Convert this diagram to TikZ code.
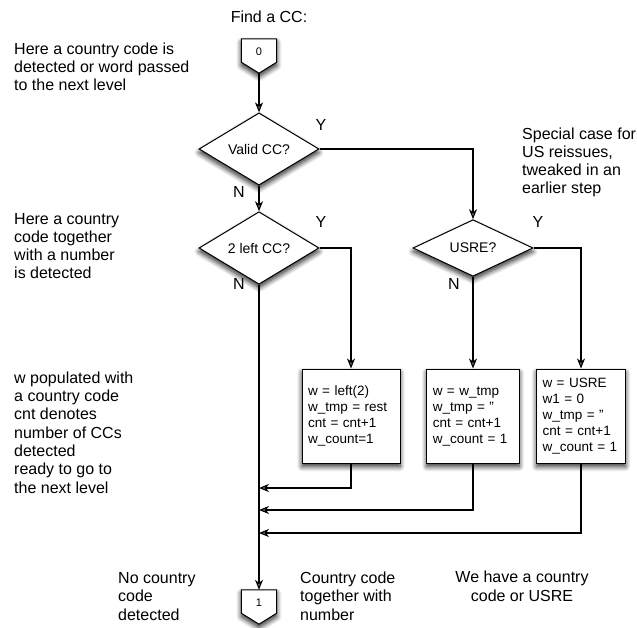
\documentclass[tikz,border=0pt]{standalone}
\usepackage{fontspec}
\setmainfont{Liberation Sans}
\usetikzlibrary{arrows.meta,shapes.geometric,shadows.blur}

\tikzset{
  flow/.style={line width=1.1pt, -{Stealth[length=10pt,width=8pt,inset=3pt]}},
  softshadow/.style={blur shadow={shadow xshift=0pt, shadow yshift=-3.5pt,
      shadow blur radius=5pt, shadow blur steps=8, shadow opacity=85}},
  decision/.style={diamond, draw, line width=1pt, fill=white, softshadow,
      minimum width=120pt, minimum height=49pt, inner sep=0pt,
      font=\fontsize{14}{16}\selectfont},
  action/.style={rectangle, draw, line width=1pt, fill=white, softshadow,
      minimum height=94pt, inner xsep=6pt, inner ysep=0pt, align=left,
      font=\fontsize{13.5}{16}\selectfont},
  % multi-line notes are placed by the baseline of their last line
  note/.style={inner sep=0pt, align=left, anchor=base west,
      font=\fontsize{16}{18.3}\selectfont},
  cnote/.style={inner sep=0pt, align=center, anchor=base,
      font=\fontsize{16}{18.3}\selectfont},
  yn/.style={inner sep=0pt, font=\fontsize{16}{18}\selectfont},
  linkframe/.style={inner sep=0pt, minimum width=35pt, minimum height=34pt},
  pentagon/.style={draw, line width=1pt, fill=white, softshadow},
  linktext/.style={inner sep=0pt, font=\fontsize{11}{12}\selectfont},
}

\begin{document}
\begin{tikzpicture}[x=1pt,y=-1pt]
\useasboundingbox (0,0) rectangle (637,628);

% ---- page links -------------------------------------------------------
\node[linkframe] (p0) at (259,56) {};
\path[pentagon] (p0.north west) -- (p0.north east) -- ([yshift=11pt]p0.south east)
  -- (p0.south) -- ([yshift=11pt]p0.south west) -- cycle;
\node[linktext] (p0t) at ([yshift=-13pt]p0.north) {0};

\node[linkframe] (p1) at (259,607) {};
\path[pentagon] (p1.north west) -- (p1.north east) -- ([yshift=11pt]p1.south east)
  -- (p1.south) -- ([yshift=11pt]p1.south west) -- cycle;
\node[linktext] (p1t) at ([yshift=-13pt]p1.north) {1};

% ---- decisions --------------------------------------------------------
\node[decision] (valid) at (259,149) {Valid CC?};
\node[decision] (left2) at (259,248) {2 left CC?};
\node[decision] (usre)  at (473,248) {USRE?};

% ---- assignments ------------------------------------------------------
\node[action, text width=86pt]   (box1) at (351,416)
  {w = left(2)\\w\_tmp = rest\\cnt = cnt+1\\w\_count=1};
\node[action, text width=80.5pt] (box2) at (473,416)
  {w = w\_tmp\\w\_tmp = ''\\cnt = cnt+1\\w\_count = 1};
\node[action, text width=77pt]   (box3) at (581,416)
  {w = USRE\\w1 = 0\\w\_tmp = ''\\cnt = cnt+1\\w\_count = 1};

% ---- join points on the main line -------------------------------------
\coordinate (m1) at (259,488);
\coordinate (m2) at (259,510);
\coordinate (m3) at (259,533);

% ---- connectors -------------------------------------------------------
\draw[flow] (p0.south) -- (valid.north);
\draw[flow] (valid.south) -- (left2.north);
\draw[flow] (valid.east) -| (usre.north);
\draw[flow] (left2.east) -| (box1.north);
\draw[flow] (usre.south) -- (box2.north);
\draw[flow] (usre.east) -| (box3.north);
\draw[flow] (left2.south) -- (p1.north);
\draw[flow] (box1.south) |- (m1);
\draw[flow] (box2.south) |- (m2);
\draw[flow] (box3.south) |- (m3);

% ---- branch labels ----------------------------------------------------
\node[yn] (y1) at (321,125) {Y};
\node[yn] (n1) at (239,192) {N};
\node[yn] (y2) at (321,222) {Y};
\node[yn] (n2) at (239,284) {N};
\node[yn] (y3) at (538,222) {Y};
\node[yn] (n3) at (454,284) {N};

% ---- annotations ------------------------------------------------------
\node[cnote] (title) at (269,23) {Find a CC:};
\node[note] (t1) at (14,91) {Here a country code is\\detected or word passed\\to the next level};
\node[note] (t2) at (14,279) {Here a country\\code together\\with a number\\is detected};
\node[note] (t3) at (14,493) {w populated with\\a country code\\cnt denotes\\number of CCs\\detected\\ready to go to\\the next level};
\node[note] (t4) at (522,194) {Special case for\\US reissues,\\tweaked in an\\earlier step};
\node[note] (t5) at (118,620) {No country\\code\\detected};
\node[note] (t6) at (300,620) {Country code\\together with\\number};
\node[cnote] (t7) at (522,601) {We have a country\\code or USRE};
\end{tikzpicture}
\end{document}
